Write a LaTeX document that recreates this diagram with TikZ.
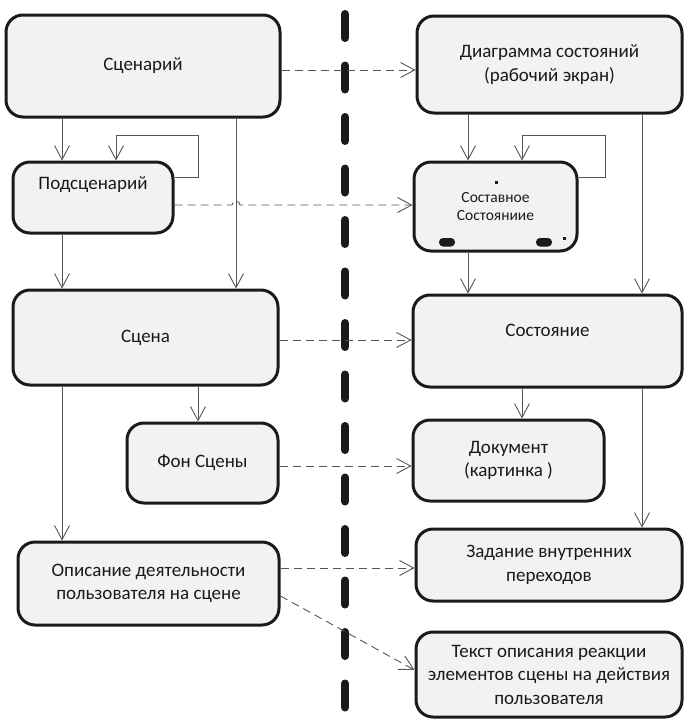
\documentclass[tikz,border=0pt]{standalone}
\usepackage{fontspec}
\setmainfont{Carlito}
\usetikzlibrary{arrows.meta}
\definecolor{boxfill}{HTML}{F2F2F2}
\definecolor{ink}{HTML}{1A1A1A}
\definecolor{wire}{HTML}{555555}
\tikzset{
  box/.style={draw=ink, line width=3pt, fill=boxfill, rounded corners=17pt,
    inner sep=0pt, align=center, text=ink, font=\fontsize{19}{23.5}\selectfont},
  conn/.style={draw=wire, line width=0.9pt, -{Straight Barb[length=14pt,width=15pt,line width=0.9pt]}},
  plainline/.style={draw=wire, line width=0.9pt},
  dep/.style={draw=wire, line width=0.9pt, dash pattern=on 8pt off 5pt,
    -{Straight Barb[length=14pt,width=15pt,line width=0.9pt]}},
  divider/.style={draw=ink, line width=8pt, line cap=round, dash pattern=on 24pt off 27.5pt},
  lbl/.style={text=ink, inner sep=0pt, align=center, font=\fontsize{19}{23.5}\selectfont}
}
\begin{document}
\begin{tikzpicture}[x=1pt,y=-1pt]
\useasboundingbox (0,0) rectangle (684,720);
% divider
\draw[divider] (345,14) -- (345,712);
% left boxes
\node[box, minimum width=274pt, minimum height=102pt] (scn) at (143,66) {Сценарий};
\node[box, minimum width=160pt, minimum height=71pt] (psc) at (93,197.5) {};
\node[lbl] (psct) at ([yshift=12.5pt]psc.center) {Подсценарий};
\node[box, minimum width=265pt, minimum height=95pt] (sce) at (145.5,337.5) {Сцена};
\node[box, minimum width=151pt, minimum height=80pt] (fon) at (202.5,463) {Фон Сцены};
\node[box, minimum width=261pt, minimum height=83pt] (opi) at (148.5,583.5) {Описание деятельности\\пользователя на сцене};
% right boxes
\node[box, minimum width=265pt, minimum height=97pt] (dia) at (549.5,64.5) {Диаграмма состояний\\(рабочий экран)};
\node[box, minimum width=163pt, minimum height=89pt, font=\fontsize{15.5}{17.5}\selectfont] (sos) at (495.5,206.5) {Составное\\Состояниие};
\node[box, minimum width=269pt, minimum height=92pt] (sta) at (547.5,341) {};
\node[lbl] (stat) at ([yshift=11pt]sta.center) {Состояние};
\node[box, minimum width=191pt, minimum height=81pt] (dok) at (508.5,460.5) {Документ\\(картинка )};
\node[box, minimum width=266pt, minimum height=72pt] (zad) at (549,565) {Задание внутренних\\переходов};
\node[box, minimum width=266pt, minimum height=85pt] (tek) at (549,674.5) {Текст описания реакции\\элементов сцены на действия\\пользователя};
% marks inside the composite state
\fill[ink] (495,181) rectangle (497.5,183.5);
\fill[ink] (563,237) rectangle (565.5,239.5);
\fill[ink, rounded corners=4pt] (439,238) rectangle (455,246.5);
\fill[ink, rounded corners=4pt] (536,238) rectangle (552,246.5);
% left connectors
\draw[conn] (scn.south -| 62,0) -- (psc.north -| 62,0);
\draw[conn] (psc.east |- 0,177) -- (198,177) -- (198,135) -- (116,135) -- (psc.north -| 116,0);
\draw[conn] (scn.south -| 236,0) -- (sce.north -| 236,0);
\draw[conn] (psc.south -| 62,0) -- (sce.north -| 62,0);
\draw[conn] (sce.south -| 198,0) -- (fon.north -| 198,0);
\draw[conn] (sce.south -| 62,0) -- (opi.north -| 62,0);
% right connectors
\draw[conn] (dia.south -| 468,0) -- (sos.north -| 468,0);
\draw[conn] (sos.east |- 0,177) -- (605,177) -- (605,135) -- (522,135) -- (sos.north -| 522,0);
\draw[conn] (dia.south -| 642,0) -- (sta.north -| 642,0);
\draw[conn] (sos.south -| 468,0) -- (sta.north -| 468,0);
\draw[conn] (sta.south -| 522,0) -- (dok.north -| 522,0);
\draw[conn] (sta.south -| 642,0) -- (zad.north -| 642,0);
% dependencies
\draw[dep] (scn.east |- 0,70) -- (dia.west |- 0,70);
\draw[dep] (psc.east |- 0,205) -- (232,205) arc[start angle=180, end angle=0, radius=4pt] -- (sos.west |- 0,205);
\draw[dep] (sce.east |- 0,340) -- (sta.west |- 0,340);
\draw[dep] (fon.east |- 0,466) -- (dok.west |- 0,466);
\draw[dep] (opi.east |- 0,568) -- (zad.west |- 0,568);
\draw[dep] (opi.east |- 0,596) -- (tek.west |- 0,670);
\end{tikzpicture}
\end{document}
